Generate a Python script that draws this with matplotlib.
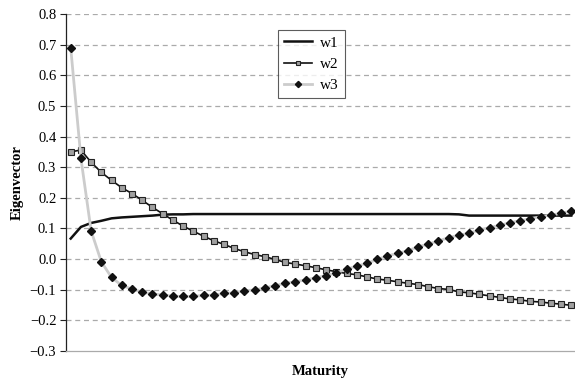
import numpy as np
import matplotlib.pyplot as plt

plt.rcParams['font.family'] = ['Liberation Serif', 'DejaVu Serif']

maturity = np.arange(50)

w1 = [0.067, 0.105, 0.118, 0.125, 0.133, 0.136, 0.138, 0.140, 0.142, 0.145,
      0.146, 0.146, 0.147, 0.147, 0.147, 0.147, 0.147, 0.147, 0.147, 0.147,
      0.147, 0.147, 0.147, 0.147, 0.147, 0.147, 0.147, 0.147, 0.147, 0.147,
      0.147, 0.147, 0.147, 0.147, 0.147, 0.147, 0.147, 0.147, 0.146, 0.142,
      0.142, 0.142, 0.142, 0.142, 0.142, 0.142, 0.142, 0.142, 0.142, 0.142]

w2 = [0.350, 0.356, 0.316, 0.283, 0.257, 0.233, 0.214, 0.192, 0.169, 0.148,
      0.127, 0.108, 0.091, 0.075, 0.060, 0.048, 0.035, 0.024, 0.015, 0.008,
      -0.001, -0.011, -0.016, -0.022, -0.028, -0.035, -0.041, -0.047, -0.051, -0.058,
      -0.065, -0.069, -0.074, -0.079, -0.083, -0.090, -0.096, -0.099, -0.107, -0.110,
      -0.115, -0.120, -0.125, -0.130, -0.133, -0.138, -0.140, -0.144, -0.147, -0.151]

w3 = [0.690, 0.329, 0.092, -0.009, -0.060, -0.086, -0.098, -0.108, -0.114, -0.117,
      -0.121, -0.122, -0.122, -0.118, -0.118, -0.112, -0.110, -0.103, -0.101, -0.094,
      -0.087, -0.079, -0.074, -0.068, -0.061, -0.054, -0.045, -0.033, -0.023, -0.014,
      -0.001, 0.010, 0.019, 0.027, 0.040, 0.049, 0.059, 0.070, 0.078, 0.084,
      0.095, 0.103, 0.110, 0.119, 0.125, 0.132, 0.138, 0.144, 0.149, 0.157]

yticks = np.round(np.arange(-0.3, 0.81, 0.1), 1)

fig = plt.figure(figsize=(5.75, 3.81), dpi=100)
ax = fig.add_axes([0.1148, 0.0787, 0.884, 0.8846])

ax.plot(maturity, w1, color='#111111', lw=1.8, label='w1')
ax.plot(maturity, w2, color='#111111', lw=1.2, marker='s', ms=4.5,
        markerfacecolor='#a0a0a0', markeredgecolor='#222222', markeredgewidth=0.8,
        label='w2')
ax.plot(maturity, w3, color='#cccccc', lw=2.0, marker='D', ms=4.2,
        markerfacecolor='#111111', markeredgecolor='#111111', label='w3',
        clip_on=False)

ax.set_xlim(-0.46, 49.3)
ax.set_ylim(-0.3, 0.8)
ax.set_yticks(yticks)
ax.set_yticklabels(['\u22120.3', '\u22120.2', '\u22120.1'] + ['%.1f' % t for t in yticks[3:]],
                   fontsize=10.5)
ax.set_xticks([])
ax.tick_params(axis='y', length=4, width=0.8, color='#222222', pad=3)

for t in yticks[1:]:
    ax.axhline(t, color='#aaaaaa', lw=0.9, ls=(0, (4, 3)), zorder=0)

for s in ['top', 'right']:
    ax.spines[s].set_visible(False)
ax.spines['left'].set_color('#222222')
ax.spines['left'].set_linewidth(0.9)
ax.spines['bottom'].set_color('#aaaaaa')
ax.spines['bottom'].set_linewidth(0.9)

ax.set_ylabel('Eigenvector', fontsize=10.5, fontweight='bold', labelpad=4)
ax.set_xlabel('Maturity', fontsize=10.5, fontweight='bold', labelpad=10)

leg = ax.legend(loc='upper left', bbox_to_anchor=(0.417, 0.953), fontsize=11,
                frameon=True, fancybox=False, edgecolor='#333333', borderaxespad=0,
                handlelength=1.85, borderpad=0.4, labelspacing=0.5,
                handletextpad=0.5, markerscale=0.75)
leg.get_frame().set_linewidth(0.8)

fig.savefig('out.png', dpi=100)
